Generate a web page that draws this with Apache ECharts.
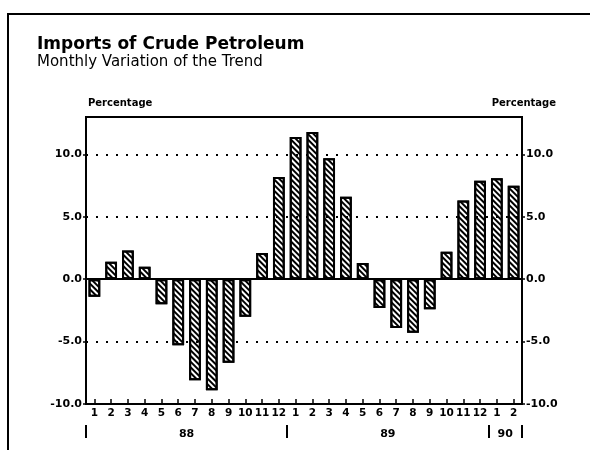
<!DOCTYPE html>
<html>
<head>
<meta charset="utf-8">
<script src="https://cdn.jsdelivr.net/npm/echarts@6/dist/echarts.min.js"></script>
<style>
  html, body { margin: 0; padding: 0; background: #fff; }
  #chart { width: 590px; height: 450px; }
</style>
</head>
<body>
<div id="chart"></div>
<script>
// months from Jan 88 to Feb 90
const months = ['1','2','3','4','5','6','7','8','9','10','11','12',
                '1','2','3','4','5','6','7','8','9','10','11','12',
                '1','2'];
const years = ['88', '89', '90'];
const monthsPerYear = [12, 12, 2];
// monthly variation of the trend, percentage
const variation = [-1.4, 1.4, 2.3, 1.0, -2.0, -5.3, -8.1, -8.9, -6.7, -3.0, 2.1, 8.2,
                   11.4, 11.8, 9.7, 6.6, 1.3, -2.3, -3.9, -4.3, -2.4, 2.2, 6.3, 7.9,
                   8.1, 7.5];
const yTicks = [-10, -5, 0, 5, 10];
const dottedLines = [10, 5, -5];

// year boundaries and centres on the month scale
const yearEdges = [0];
const yearMids = [];
monthsPerYear.forEach((n, i) => {
  yearMids.push(yearEdges[i] + n / 2);
  yearEdges.push(yearEdges[i] + n);
});

const font = "'DejaVu Sans', Verdana, sans-serif";
const chart = echarts.init(document.getElementById('chart'));

const yAxisCommon = {
  type: 'value',
  min: -10,
  max: 13,
  splitLine: { show: false },
  axisLine: { show: true, lineStyle: { color: '#000', width: 2 } },
  axisTick: { show: true, customValues: yTicks, length: 3, lineStyle: { color: '#000', width: 1.5 } },
  axisLabel: {
    customValues: yTicks,
    color: '#000', fontFamily: font, fontWeight: 'bold', fontSize: 11, margin: 4,
    formatter: v => v.toFixed(1)
  }
};

chart.setOption({
  animation: false,
  backgroundColor: '#fff',
  title: {
    text: 'Imports of Crude Petroleum',
    subtext: 'Monthly Variation of the Trend',
    left: 37, top: 36, itemGap: 2, padding: 0,
    textStyle: { color: '#000', fontFamily: font, fontWeight: 'bold', fontSize: 17 },
    subtextStyle: { color: '#000', fontFamily: font, fontSize: 15 }
  },
  graphic: [
    { type: 'rect', shape: { x: 8, y: 14, width: 620, height: 480 },
      style: { fill: 'none', stroke: '#000', lineWidth: 2 } },
    { type: 'text', left: 88, top: 98,
      style: { text: 'Percentage', fill: '#000', font: "bold 10px 'DejaVu Sans', Verdana" } },
    { type: 'text', right: 34, top: 98,
      style: { text: 'Percentage', fill: '#000', font: "bold 10px 'DejaVu Sans', Verdana" } }
  ],
  grid: {
    left: 86, right: 68, top: 117, bottom: 46,
    show: true, borderColor: '#000', borderWidth: 2
  },
  xAxis: [
    {
      type: 'category',
      data: months,
      position: 'bottom',
      axisLine: { show: true, onZero: false, lineStyle: { color: '#000', width: 2 } },
      axisTick: { show: true, inside: true, alignWithLabel: true, length: 5, lineStyle: { color: '#000', width: 1.5 } },
      axisLabel: { color: '#000', fontFamily: font, fontWeight: 'bold', fontSize: 10.5, margin: 4, interval: 0 }
    },
    {
      type: 'value',
      min: 0,
      max: yearEdges[yearEdges.length - 1],
      position: 'bottom',
      offset: 21,
      splitLine: { show: false },
      axisLine: { show: false, onZero: false },
      axisTick: { show: true, customValues: yearEdges, length: 13, lineStyle: { color: '#000', width: 2 } },
      axisLabel: {
        customValues: yearMids,
        color: '#000', fontFamily: font, fontWeight: 'bold', fontSize: 11, margin: 4,
        formatter: v => years[yearMids.indexOf(v)]
      }
    }
  ],
  yAxis: [
    Object.assign({ position: 'left' }, yAxisCommon),
    Object.assign({ position: 'right' }, yAxisCommon)
  ],
  series: [
    {
      type: 'line',
      data: [],
      z: 1,
      silent: true,
      markLine: {
        silent: true, symbol: 'none', label: { show: false },
        lineStyle: { color: '#000', type: [2, 8], width: 2 },
        data: dottedLines.map(v => ({ yAxis: v }))
      }
    },
    {
      type: 'bar',
      data: variation,
      barWidth: '70%',
      z: 3,
      itemStyle: {
        color: '#fff',
        borderColor: '#000',
        borderWidth: 2,
        decal: {
          symbol: 'rect', symbolSize: 1, color: '#000',
          dashArrayX: [1, 0], dashArrayY: [2, 2], rotation: Math.PI / 4
        }
      },
      markLine: {
        silent: true, symbol: 'none', label: { show: false },
        lineStyle: { color: '#000', type: 'solid', width: 2 },
        data: [{ yAxis: 0 }]
      }
    }
  ]
});
</script>
</body>
</html>
